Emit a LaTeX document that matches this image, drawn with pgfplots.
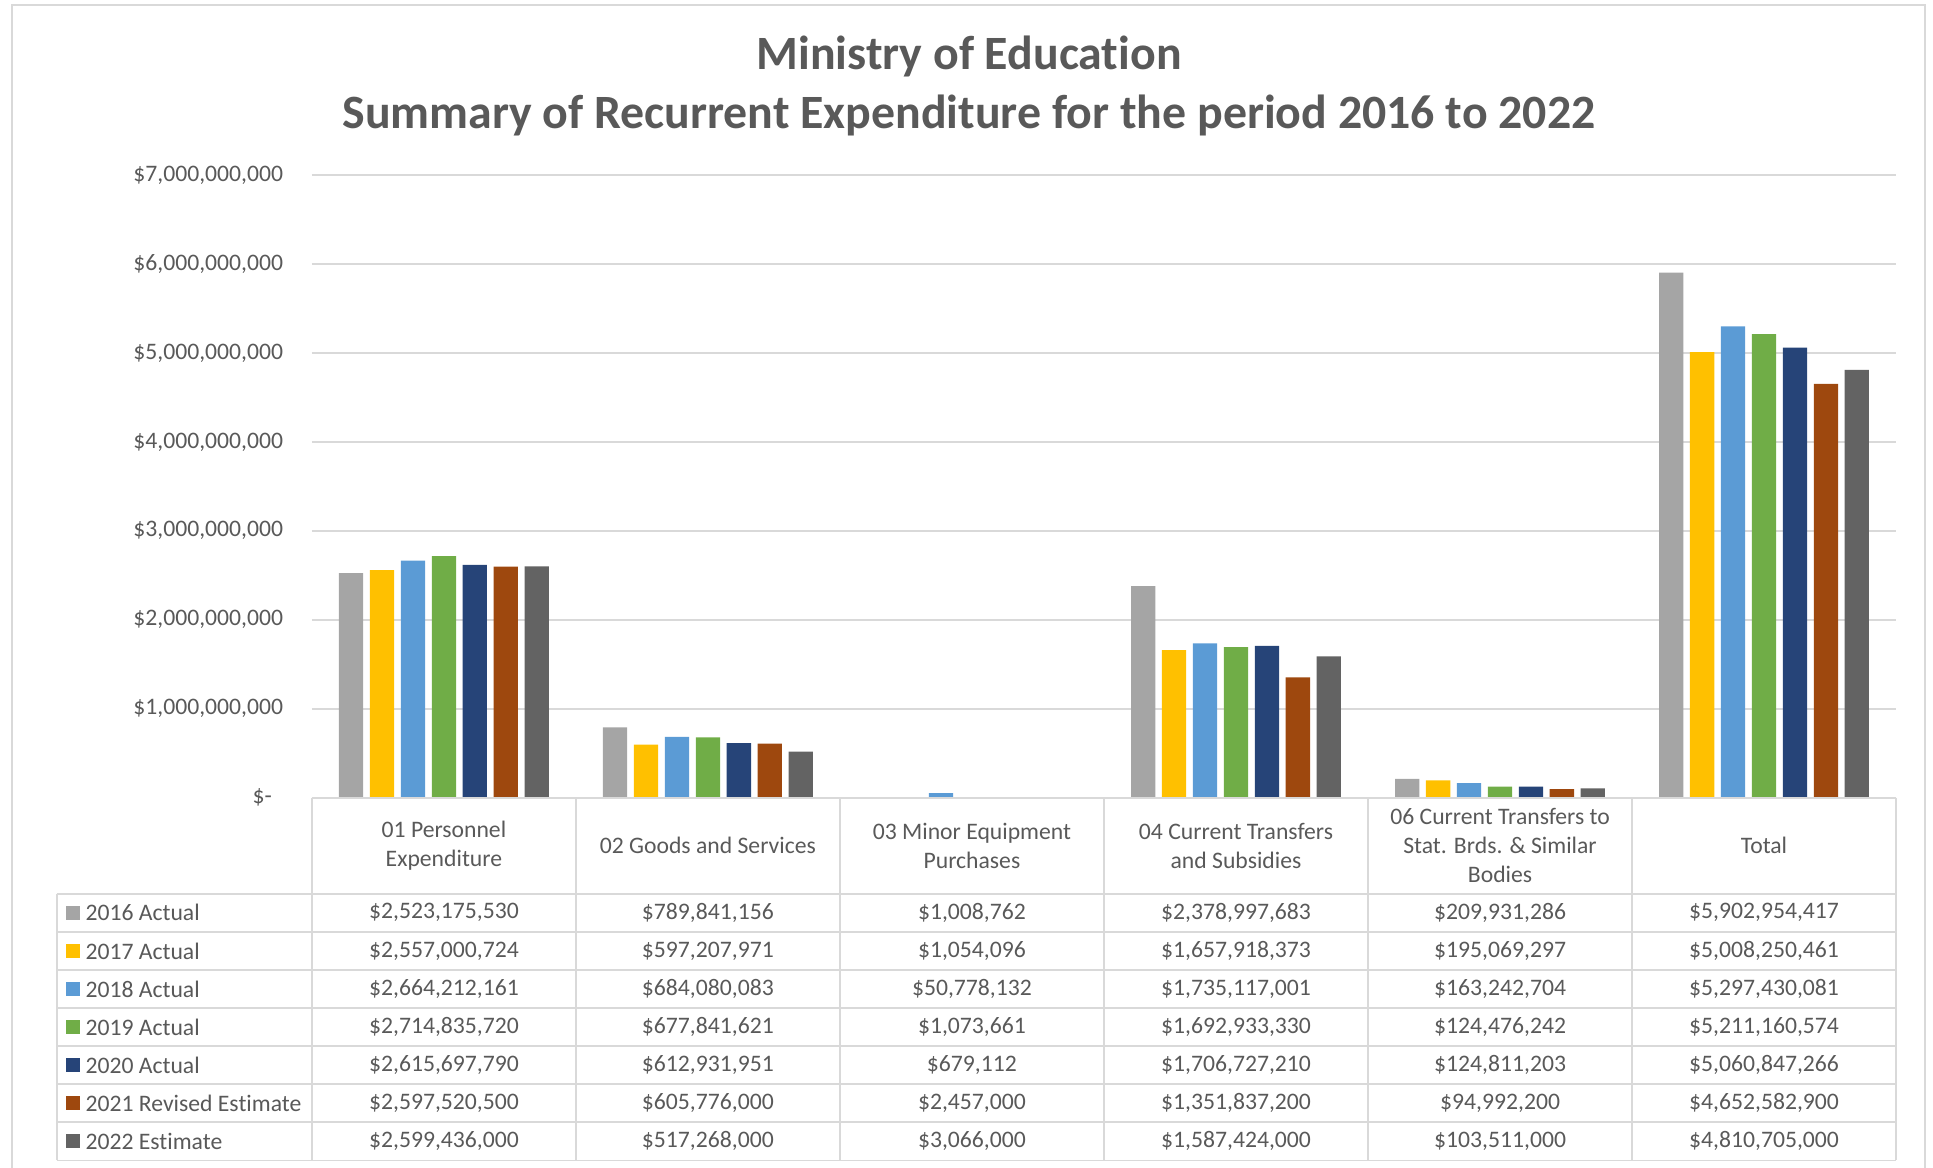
\documentclass[border=0pt]{standalone}
\usepackage{fontspec}
\setmainfont{Carlito}[Ligatures=NoCommon]
\usepackage{pgfplots}
\pgfplotsset{compat=1.18}
\usepackage{pgfplotstable}

\definecolor{txt}{HTML}{595959}
\definecolor{gridc}{HTML}{D9D9D9}
\definecolor{sA}{HTML}{A5A5A5}
\definecolor{sB}{HTML}{FFC000}
\definecolor{sC}{HTML}{5B9BD5}
\definecolor{sD}{HTML}{70AD47}
\definecolor{sE}{HTML}{264478}
\definecolor{sF}{HTML}{9E480E}
\definecolor{sG}{HTML}{636363}

% categories: 0 Personnel, 1 Goods, 2 Minor Equipment, 3 Current Transfers, 4 Stat. Brds., 5 Total
\pgfplotstableread{
cat y2016 y2017 y2018 y2019 y2020 y2021 y2022
0 2523175530 2557000724 2664212161 2714835720 2615697790 2597520500 2599436000
1 789841156 597207971 684080083 677841621 612931951 605776000 517268000
2 1008762 1054096 50778132 1073661 679112 2457000 3066000
3 2378997683 1657918373 1735117001 1692933330 1706727210 1351837200 1587424000
4 209931286 195069297 163242704 124476242 124811203 94992200 103511000
5 5902954417 5008250461 5297430081 5211160574 5060847266 4652582900 4810705000
}\expdata

\newcommand\tabfont{\fontsize{9.6}{11.75}\selectfont}
\newcommand\tabrow[9]{%
  \pgfmathsetmacro\yc{725+30.9*(#1+0.5)}
  \fill[#2] (53.5,\yc-5.7) rectangle ++(11.4,11.4);
  \node[anchor=west] at (69,\yc) {#3};
  \node at (360.1,\yc) {#4};
  \node at (574.2,\yc) {#5};
  \node at (788.4,\yc) {#6};
  \node at (1002.6,\yc) {#7};
  \node at (1216.8,\yc) {#8};
  \node at (1430.9,\yc) {#9};
}

\begin{document}
\begin{tikzpicture}
\useasboundingbox (0pt,0pt) rectangle (784pt,-473.65pt);

\begin{axis}[
  at={(126.5pt,-323.5pt)}, anchor=south west,
  scale only axis, width=642.5pt, height=252.5pt,
  xmin=-0.5, xmax=5.5, ymin=0, ymax=7e9,
  ybar=2.7pt, bar width=9.85pt,
  axis line style={draw=none},
  major tick length=0pt,
  xtick=\empty,
  ytick={0,1e9,2e9,3e9,4e9,5e9,6e9,7e9},
  scaled y ticks=false,
  yticklabels={{\$-\hspace*{4.5pt}},{\$1,000,000,000},{\$2,000,000,000},{\$3,000,000,000},
    {\$4,000,000,000},{\$5,000,000,000},{\$6,000,000,000},{\$7,000,000,000}},
  yticklabel style={font=\tabfont, text=txt, anchor=east, inner sep=0pt, xshift=-11.5pt},
  ymajorgrids, grid style={gridc, line width=0.75pt},
  clip=false,
]
\addplot[fill=sA, draw=none] table[x=cat, y=y2016] {\expdata};
\addplot[fill=sB, draw=none] table[x=cat, y=y2017] {\expdata};
\addplot[fill=sC, draw=none] table[x=cat, y=y2018] {\expdata};
\addplot[fill=sD, draw=none] table[x=cat, y=y2019] {\expdata};
\addplot[fill=sE, draw=none] table[x=cat, y=y2020] {\expdata};
\addplot[fill=sF, draw=none] table[x=cat, y=y2021] {\expdata};
\addplot[fill=sG, draw=none] table[x=cat, y=y2022] {\expdata};
\end{axis}

\begin{scope}[x=0.5pt, y=-0.5pt, every node/.style={font=\tabfont, text=txt, inner sep=0pt}]
  % outer frame
  \draw[gridc, line width=0.7pt] (10,960) -- (10,4.3) -- (1561.7,4.3) -- (1561.7,960);
  % title
  \node[font=\fontsize{19.4}{22}\selectfont\bfseries] at (786,46) {Ministry of Education};
  \node[font=\fontsize{19.4}{22}\selectfont\bfseries] at (786,94) {Summary of Recurrent Expenditure for the period 2016 to 2022};
  % data table grid
  \draw[gridc, line width=0.75pt] (253,647) -- (1538,647);
  \foreach \k in {0,...,7} {
    \draw[gridc, line width=0.75pt] (46,725+30.9*\k) -- (1538,725+30.9*\k);
  }
  \draw[gridc, line width=0.75pt] (46,725) -- (46,941.3);
  \foreach \xx in {253,467.17,681.33,895.5,1109.67,1323.83,1538} {
    \draw[gridc, line width=0.75pt] (\xx,647) -- (\xx,941.3);
  }
  % header
  \node[align=center] at (360.1,686) {01 Personnel\\Expenditure};
  \node[align=center] at (574.2,686) {02 Goods and Services};
  \node[align=center] at (788.4,686) {03 Minor Equipment\\Purchases};
  \node[align=center] at (1002.6,686) {04 Current Transfers\\and Subsidies};
  \node[align=center] at (1216.8,686) {06 Current Transfers to\\Stat. Brds. \& Similar\\Bodies};
  \node[align=center] at (1430.9,686) {Total};
  % rows
  \tabrow{0}{sA}{2016 Actual}{\$2,523,175,530}{\$789,841,156}{\$1,008,762}{\$2,378,997,683}{\$209,931,286}{\$5,902,954,417}
  \tabrow{1}{sB}{2017 Actual}{\$2,557,000,724}{\$597,207,971}{\$1,054,096}{\$1,657,918,373}{\$195,069,297}{\$5,008,250,461}
  \tabrow{2}{sC}{2018 Actual}{\$2,664,212,161}{\$684,080,083}{\$50,778,132}{\$1,735,117,001}{\$163,242,704}{\$5,297,430,081}
  \tabrow{3}{sD}{2019 Actual}{\$2,714,835,720}{\$677,841,621}{\$1,073,661}{\$1,692,933,330}{\$124,476,242}{\$5,211,160,574}
  \tabrow{4}{sE}{2020 Actual}{\$2,615,697,790}{\$612,931,951}{\$679,112}{\$1,706,727,210}{\$124,811,203}{\$5,060,847,266}
  \tabrow{5}{sF}{2021 Revised Estimate}{\$2,597,520,500}{\$605,776,000}{\$2,457,000}{\$1,351,837,200}{\$94,992,200}{\$4,652,582,900}
  \tabrow{6}{sG}{2022 Estimate}{\$2,599,436,000}{\$517,268,000}{\$3,066,000}{\$1,587,424,000}{\$103,511,000}{\$4,810,705,000}
\end{scope}
\end{tikzpicture}
\end{document}
